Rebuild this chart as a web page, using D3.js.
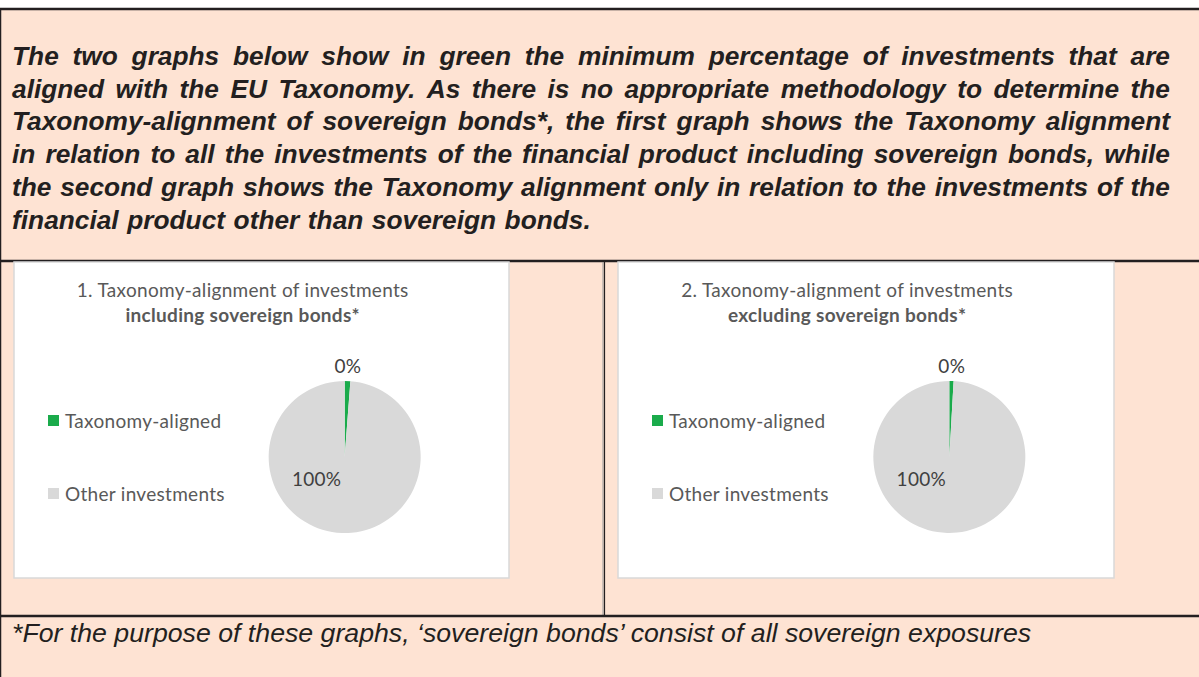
<!DOCTYPE html>
<html>
<head>
<meta charset="utf-8">
<script src="https://cdn.jsdelivr.net/npm/d3@7"></script>
<style>
  body { margin: 0; background: #fff; }
  svg { display: block; }
</style>
</head>
<body>
<div id="chart"></div>
<script>
var width = 1199, height = 677;

// data
var categories = ["Taxonomy-aligned", "Other investments"];
var colors = ["#1aab4b", "#d9d9d9"];
var chartTitles = [
    ["1. Taxonomy-alignment of investments", "including sovereign bonds*"],
    ["2. Taxonomy-alignment of investments", "excluding sovereign bonds*"]
];
var valuesIncl = [0.012, 0.988];
var valuesExcl = [0.009, 0.991];
var labelsIncl = ["0%", "100%"];
var labelsExcl = ["0%", "100%"];

var headerLines = [
    "The two graphs below show in green the minimum percentage of investments that are",
    "aligned with the EU Taxonomy. As there is no appropriate methodology to determine the",
    "Taxonomy-alignment of sovereign bonds*, the first graph shows the Taxonomy alignment",
    "in relation to all the investments of the financial product including sovereign bonds, while",
    "the second graph shows the Taxonomy alignment only in relation to the investments of the",
    "financial product other than sovereign bonds."
];
var footnote = "*For the purpose of these graphs, \u2018sovereign bonds\u2019 consist of all sovereign exposures";

var svg = d3.select("#chart").append("svg")
    .attr("width", width)
    .attr("height", height);

// peach background below the top rule
svg.append("rect")
    .attr("x", 0).attr("y", 9)
    .attr("width", width).attr("height", height - 9)
    .attr("fill", "#fee3d3");

// header paragraph, justified word by word
var hdr = svg.append("g")
    .attr("font-family", "'Liberation Sans', Arial, sans-serif")
    .attr("font-size", 26.3)
    .attr("font-weight", "bold")
    .attr("font-style", "italic")
    .attr("fill", "#231f20");
var left = 12, right = 1170;
headerLines.forEach(function (line, li) {
    var y = 65 + li * 32.7;
    var words = line.split(" ");
    var isLast = li == headerLines.length - 1;
    var nodes = words.map(function (w) {
        return hdr.append("text").attr("y", y).text(w);
    });
    var widths = nodes.map(function (n) { return n.node().getComputedTextLength(); });
    var total = d3.sum(widths);
    var gap = isLast ? 8.5 : (right - left - total) / (words.length - 1);
    var x = left;
    nodes.forEach(function (n, i) {
        n.attr("x", x);
        x += widths[i] + gap;
    });
});

// rules
var ink = "#231f20";
svg.append("line").attr("x1", 0).attr("x2", width).attr("y1", 9).attr("y2", 9)
    .attr("stroke", ink).attr("stroke-width", 2.5);
svg.append("line").attr("x1", 0.5).attr("x2", 0.5).attr("y1", 9).attr("y2", height)
    .attr("stroke", ink).attr("stroke-width", 1.5);
svg.append("line").attr("x1", 0).attr("x2", width).attr("y1", 261).attr("y2", 261)
    .attr("stroke", ink).attr("stroke-width", 2.5);
svg.append("line").attr("x1", 603).attr("x2", 603).attr("y1", 262).attr("y2", 616)
    .attr("stroke", "#9a9a9a").attr("stroke-width", 1);
svg.append("line").attr("x1", 604.5).attr("x2", 604.5).attr("y1", 261).attr("y2", 616)
    .attr("stroke", ink).attr("stroke-width", 1.2);
svg.append("line").attr("x1", 0).attr("x2", width).attr("y1", 616).attr("y2", 616)
    .attr("stroke", ink).attr("stroke-width", 2.5);

// footnote
svg.append("text")
    .attr("x", 12).attr("y", 642)
    .attr("font-family", "'Liberation Sans', Arial, sans-serif")
    .attr("font-size", 26.7)
    .attr("font-style", "italic")
    .attr("fill", "#231f20")
    .text(footnote);

var pie = d3.pie().sort(null);
var arc = d3.arc().innerRadius(0).outerRadius(76);

function drawChart(x0, y0, w, h, title, values, labels) {
    var g = svg.append("g").attr("transform", "translate(" + x0 + "," + y0 + ")");
    g.append("rect")
        .attr("width", w).attr("height", h)
        .attr("fill", "#fff")
        .attr("stroke", "#d9d9d9").attr("stroke-width", 1.5);

    var font = "Lato, 'Open Sans', sans-serif";
    var fs = 19, ls = 0.3;
    g.append("text")
        .attr("x", w * 0.462).attr("y", 35)
        .attr("text-anchor", "middle")
        .attr("font-family", font).attr("font-size", fs)
        .attr("letter-spacing", ls)
        .attr("fill", "#595959")
        .text(title[0]);
    g.append("text")
        .attr("x", w * 0.462).attr("y", 60)
        .attr("text-anchor", "middle")
        .attr("font-family", font).attr("font-size", fs)
        .attr("letter-spacing", ls)
        .attr("font-weight", "bold")
        .attr("fill", "#595959")
        .text(title[1]);

    // legend
    var leg = g.selectAll(".leg").data(categories).enter().append("g")
        .attr("transform", function (d, i) { return "translate(34," + (159 + i * 73) + ")"; });
    leg.append("rect")
        .attr("x", 0).attr("y", -6)
        .attr("width", 11).attr("height", 11)
        .attr("fill", function (d, i) { return colors[i]; });
    leg.append("text")
        .attr("x", 17).attr("y", 6.5)
        .attr("font-family", font).attr("font-size", fs)
        .attr("letter-spacing", ls)
        .attr("fill", "#595959")
        .text(function (d) { return d; });

    // pie
    var cx = w * 0.668, cy = 195;
    var pg = g.append("g").attr("transform", "translate(" + cx + "," + cy + ")");
    var pd = pie(values);
    pg.selectAll("path").data(pd).enter().append("path")
        .attr("d", arc)
        .attr("fill", function (d, i) { return colors[i]; });

    // data labels
    pg.append("text")
        .attr("x", d3.arc().innerRadius(85).outerRadius(85).centroid(pd[0])[0])
        .attr("y", -84)
        .attr("text-anchor", "middle")
        .attr("font-family", font).attr("font-size", fs)
        .attr("letter-spacing", ls)
        .attr("fill", "#404040")
        .text(labels[0]);
    pg.append("text")
        .attr("x", -28).attr("y", 29)
        .attr("text-anchor", "middle")
        .attr("font-family", font).attr("font-size", fs)
        .attr("letter-spacing", ls)
        .attr("fill", "#404040")
        .text(labels[1]);
}

drawChart(14, 262, 495, 316, chartTitles[0], valuesIncl, labelsIncl);
drawChart(618, 262, 496, 316, chartTitles[1], valuesExcl, labelsExcl);
</script>
</body>
</html>
